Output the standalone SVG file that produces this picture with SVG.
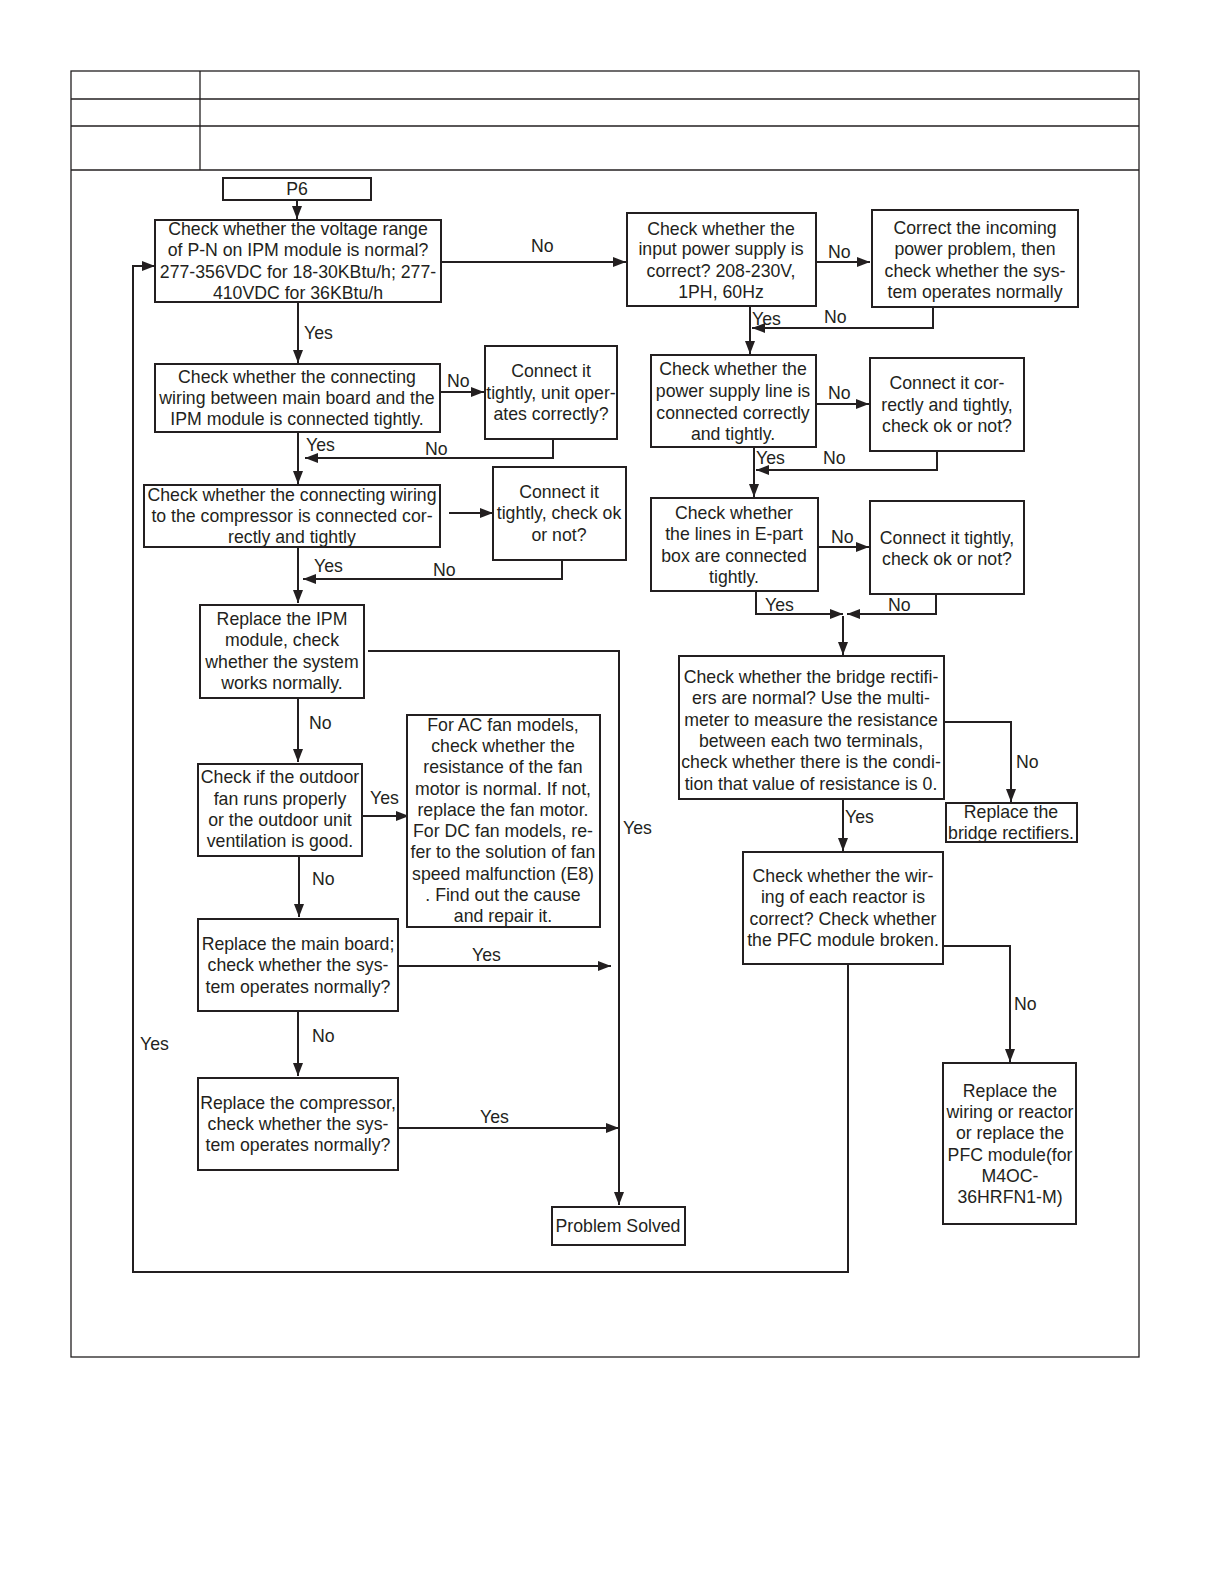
<svg xmlns="http://www.w3.org/2000/svg" width="1224" height="1584" viewBox="0 0 1224 1584">
<style>
.b{fill:#fff;stroke:#231f20;stroke-width:2}
.f{fill:none;stroke:#231f20;stroke-width:1.3}
.c{fill:none;stroke:#231f20;stroke-width:2}
text{font-family:"Liberation Sans",Arial,sans-serif;font-size:17.7px;fill:#231f20}
.m{text-anchor:middle}
</style>
<defs>
<marker id="a" markerUnits="userSpaceOnUse" markerWidth="14" markerHeight="10" refX="13" refY="5" orient="auto">
<path d="M0,0 L13,5 L0,10 z" fill="#231f20"/>
</marker>
</defs>
<rect width="1224" height="1584" fill="#fff"/>
<g id="frame">
<rect class="f" x="71" y="71" width="1068" height="1286"/>
<line class="f" x1="71" y1="99" x2="1139" y2="99"/>
<line class="f" x1="71" y1="126" x2="1139" y2="126"/>
<line class="f" x1="71" y1="170" x2="1139" y2="170"/>
<line class="f" x1="200" y1="71" x2="200" y2="170"/>
</g>
<g id="connectors">
<path class="c" d="M297,200 V219" marker-end="url(#a)"/>
<path class="c" d="M441,262 H626" marker-end="url(#a)"/>
<path class="c" d="M816,262 H870" marker-end="url(#a)"/>
<path class="c" d="M933,307 V328 H752" marker-end="url(#a)"/>
<path class="c" d="M750,306 V354" marker-end="url(#a)"/>
<path class="c" d="M816,404 H869" marker-end="url(#a)"/>
<path class="c" d="M937,451 V470 H756" marker-end="url(#a)"/>
<path class="c" d="M754,447 V497" marker-end="url(#a)"/>
<path class="c" d="M818,547 H869" marker-end="url(#a)"/>
<path class="c" d="M756,591 V614 H843" marker-end="url(#a)"/>
<path class="c" d="M936,594 V614 H847" marker-end="url(#a)"/>
<path class="c" d="M843,616 V655" marker-end="url(#a)"/>
<path class="c" d="M944,722 H1011 V802" marker-end="url(#a)"/>
<path class="c" d="M843,778 V851" marker-end="url(#a)"/>
<path class="c" d="M943,946 H1010 V1062" marker-end="url(#a)"/>
<path class="c" d="M848,962 V1272 H134"/>
<path class="c" d="M133,1273 V266 H155" marker-end="url(#a)"/>
<path class="c" d="M298,302 V363" marker-end="url(#a)"/>
<path class="c" d="M440,392 H484" marker-end="url(#a)"/>
<path class="c" d="M553,439 V458 H305" marker-end="url(#a)"/>
<path class="c" d="M298,420 V484" marker-end="url(#a)"/>
<path class="c" d="M449,513 H493" marker-end="url(#a)"/>
<path class="c" d="M562,560 V579 H303" marker-end="url(#a)"/>
<path class="c" d="M298,533 V603" marker-end="url(#a)"/>
<path class="c" d="M368,651 H619 V1205" marker-end="url(#a)"/>
<path class="c" d="M298,698 V762" marker-end="url(#a)"/>
<path class="c" d="M362,816 H409" marker-end="url(#a)"/>
<path class="c" d="M299,856 V917" marker-end="url(#a)"/>
<path class="c" d="M398,966 H611" marker-end="url(#a)"/>
<path class="c" d="M298,1011 V1076" marker-end="url(#a)"/>
<path class="c" d="M398,1128 H619" marker-end="url(#a)"/>
</g>
<g id="labels">
<text x="531" y="252">No</text>
<text x="828" y="258">No</text>
<text x="752" y="325">Yes</text>
<text x="824" y="323">No</text>
<text x="828" y="399">No</text>
<text x="756" y="464">Yes</text>
<text x="823" y="464">No</text>
<text x="831" y="543">No</text>
<text x="765" y="611">Yes</text>
<text x="888" y="611">No</text>
<text x="1016" y="768">No</text>
<text x="845" y="823">Yes</text>
<text x="1014" y="1010">No</text>
<text x="304" y="339">Yes</text>
<text x="447" y="387">No</text>
<text x="306" y="451">Yes</text>
<text x="425" y="455">No</text>
<text x="314" y="572">Yes</text>
<text x="433" y="576">No</text>
<text x="309" y="729">No</text>
<text x="623" y="834">Yes</text>
<text x="370" y="804">Yes</text>
<text x="312" y="885">No</text>
<text x="472" y="961">Yes</text>
<text x="312" y="1042">No</text>
<text x="480" y="1123">Yes</text>
<text x="140" y="1050">Yes</text>
</g>
<g id="p6">
<rect class="b" x="223" y="178" width="148" height="22"/>
<text class="m" x="297" y="195">P6</text>
</g>
<g id="n-voltage">
<rect class="b" x="155" y="220" width="286" height="82"/>
<text class="m" x="298" y="235">Check whether the voltage range</text>
<text class="m" x="298" y="256">of P-N on IPM module is normal?</text>
<text class="m" x="298" y="278">277-356VDC for 18-30KBtu/h; 277-</text>
<text class="m" x="298" y="299">410VDC for 36KBtu/h</text>
</g>
<g id="n-input">
<rect class="b" x="627" y="213" width="189" height="93"/>
<text class="m" x="721" y="235">Check whether the</text>
<text class="m" x="721" y="255">input power supply is</text>
<text class="m" x="721" y="277">correct? 208-230V,</text>
<text class="m" x="721" y="298">1PH, 60Hz</text>
</g>
<g id="n-correct">
<rect class="b" x="872" y="210" width="206" height="97"/>
<text class="m" x="975" y="234">Correct the incoming</text>
<text class="m" x="975" y="255">power problem, then</text>
<text class="m" x="975" y="277">check whether the sys-</text>
<text class="m" x="975" y="298">tem operates normally</text>
</g>
<g id="n-psl">
<rect class="b" x="651" y="355" width="165" height="92"/>
<text class="m" x="733" y="375">Check whether the</text>
<text class="m" x="733" y="397">power supply line is</text>
<text class="m" x="733" y="419">connected correctly</text>
<text class="m" x="733" y="440">and tightly.</text>
</g>
<g id="n-conn-cor">
<rect class="b" x="870" y="358" width="154" height="93"/>
<text class="m" x="947" y="389">Connect it cor-</text>
<text class="m" x="947" y="411">rectly and tightly,</text>
<text class="m" x="947" y="432">check ok or not?</text>
</g>
<g id="n-epart">
<rect class="b" x="651" y="498" width="167" height="93"/>
<text class="m" x="734" y="519">Check whether</text>
<text class="m" x="734" y="540">the lines in E-part</text>
<text class="m" x="734" y="562">box are connected</text>
<text class="m" x="734" y="583">tightly.</text>
</g>
<g id="n-conn-tight-r">
<rect class="b" x="870" y="501" width="154" height="93"/>
<text class="m" x="947" y="544">Connect it tightly,</text>
<text class="m" x="947" y="565">check ok or not?</text>
</g>
<g id="n-bridge">
<rect class="b" x="679" y="656" width="265" height="143"/>
<text class="m" x="811" y="683">Check whether the bridge rectifi-</text>
<text class="m" x="811" y="704">ers are normal? Use the multi-</text>
<text class="m" x="811" y="726">meter to measure the resistance</text>
<text class="m" x="811" y="747">between each two terminals,</text>
<text class="m" x="811" y="768">check whether there is the condi-</text>
<text class="m" x="811" y="790">tion that value of resistance is 0.</text>
</g>
<g id="n-rep-bridge">
<rect class="b" x="946" y="803" width="131" height="39"/>
<text class="m" x="1011" y="818">Replace the</text>
<text class="m" x="1011" y="839">bridge rectifiers.</text>
</g>
<g id="n-reactor">
<rect class="b" x="743" y="852" width="200" height="112"/>
<text class="m" x="843" y="882">Check whether the wir-</text>
<text class="m" x="843" y="903">ing of each reactor is</text>
<text class="m" x="843" y="925">correct? Check whether</text>
<text class="m" x="843" y="946">the PFC module broken.</text>
</g>
<g id="n-rep-wiring">
<rect class="b" x="943" y="1063" width="133" height="161"/>
<text class="m" x="1010" y="1097">Replace the</text>
<text class="m" x="1010" y="1118">wiring or reactor</text>
<text class="m" x="1010" y="1139">or replace the</text>
<text class="m" x="1010" y="1161">PFC module(for</text>
<text class="m" x="1010" y="1182">M4OC-</text>
<text class="m" x="1010" y="1203">36HRFN1-M)</text>
</g>
<g id="n-mainboard-ipm">
<rect class="b" x="155" y="364" width="285" height="68"/>
<text class="m" x="297" y="383">Check whether the connecting</text>
<text class="m" x="297" y="404">wiring between main board and the</text>
<text class="m" x="297" y="425">IPM module is connected tightly.</text>
</g>
<g id="n-conn-unit">
<rect class="b" x="485" y="346" width="132" height="93"/>
<text class="m" x="551" y="377">Connect it</text>
<text class="m" x="551" y="399">tightly, unit oper-</text>
<text class="m" x="551" y="420">ates correctly?</text>
</g>
<g id="n-compwiring">
<rect class="b" x="144" y="485" width="296" height="62"/>
<text class="m" x="292" y="501">Check whether the connecting wiring</text>
<text class="m" x="292" y="522">to the compressor is connected cor-</text>
<text class="m" x="292" y="543">rectly and tightly</text>
</g>
<g id="n-conn-tight-l">
<rect class="b" x="493" y="467" width="133" height="93"/>
<text class="m" x="559" y="498">Connect it</text>
<text class="m" x="559" y="519">tightly, check ok</text>
<text class="m" x="559" y="541">or not?</text>
</g>
<g id="n-ipm">
<rect class="b" x="200" y="605" width="164" height="93"/>
<text class="m" x="282" y="625">Replace the IPM</text>
<text class="m" x="282" y="646">module, check</text>
<text class="m" x="282" y="668">whether the system</text>
<text class="m" x="282" y="689">works normally.</text>
</g>
<g id="n-fan">
<rect class="b" x="198" y="764" width="164" height="92"/>
<text class="m" x="280" y="783">Check if the outdoor</text>
<text class="m" x="280" y="805">fan runs properly</text>
<text class="m" x="280" y="826">or the outdoor unit</text>
<text class="m" x="280" y="847">ventilation is good.</text>
</g>
<g id="n-acfan">
<rect class="b" x="407" y="715" width="193" height="212"/>
<text class="m" x="503" y="731">For AC fan models,</text>
<text class="m" x="503" y="752">check whether the</text>
<text class="m" x="503" y="773">resistance of the fan</text>
<text class="m" x="503" y="795">motor is normal. If not,</text>
<text class="m" x="503" y="816">replace the fan motor.</text>
<text class="m" x="503" y="837">For DC fan models, re-</text>
<text class="m" x="503" y="858">fer to the solution of fan</text>
<text class="m" x="503" y="880">speed malfunction (E8)</text>
<text class="m" x="503" y="901">. Find out the cause</text>
<text class="m" x="503" y="922">and repair it.</text>
</g>
<g id="n-mainboard">
<rect class="b" x="198" y="919" width="200" height="92"/>
<text class="m" x="298" y="950">Replace the main board;</text>
<text class="m" x="298" y="971">check whether the sys-</text>
<text class="m" x="298" y="993">tem operates normally?</text>
</g>
<g id="n-compressor">
<rect class="b" x="198" y="1078" width="200" height="92"/>
<text class="m" x="298" y="1109">Replace the compressor,</text>
<text class="m" x="298" y="1130">check whether the sys-</text>
<text class="m" x="298" y="1151">tem operates normally?</text>
</g>
<g id="n-solved">
<rect class="b" x="552" y="1207" width="133" height="38"/>
<text class="m" x="618" y="1232">Problem Solved</text>
</g>
</svg>
